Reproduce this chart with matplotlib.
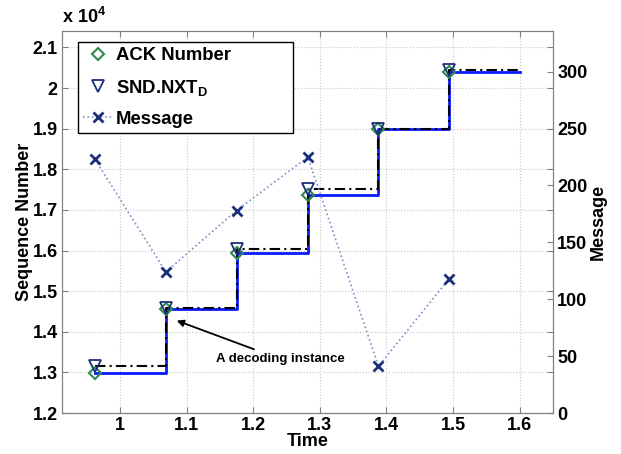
import numpy as np
import matplotlib
matplotlib.use('Agg')
import matplotlib.pyplot as plt
from matplotlib.ticker import FuncFormatter
from matplotlib.lines import Line2D

plt.rcParams['font.family'] = ['Liberation Sans', 'DejaVu Sans']
plt.rcParams['font.weight'] = 'bold'
plt.rcParams['mathtext.fontset'] = 'custom'
plt.rcParams['mathtext.rm'] = 'Liberation Sans:bold'
plt.rcParams['mathtext.bf'] = 'Liberation Sans:bold'

# --- data ---
time = [0.9625, 1.069, 1.175, 1.282, 1.388, 1.494]
time_end = 1.6
ack_number = [12990, 14550, 15948, 17373, 18985, 20403]
snd_nxt = [13162, 14597, 16030, 17504, 18995, 20435]
message = [223, 124, 178, 225, 41, 118]

# step lines run to the end time
t_step = time + [time_end]
ack_step = ack_number + [ack_number[-1]]
snd_step = snd_nxt + [snd_nxt[-1]]

green = '#2e8b4f'
navy = '#1c2f7a'
fs = 13

fig = plt.figure(figsize=(6.21, 4.54), dpi=100)
ax = fig.add_axes([0.0998, 0.0903, 0.7907, 0.8414])
ax2 = ax.twinx()

ax.plot(t_step, ack_step, drawstyle='steps-post', color='#0a1aff', lw=2, zorder=3)
ax.plot(t_step, snd_step, drawstyle='steps-post', color='black', lw=1.5,
        linestyle=(0, (5, 2, 1, 2)), zorder=4)
ax.plot(time, ack_number, linestyle='none', marker='D', markersize=6,
        markerfacecolor='none', markeredgecolor=green, markeredgewidth=1.5, zorder=5)
ax.plot(time, snd_nxt, linestyle='none', marker='v', markersize=8.5,
        markerfacecolor='none', markeredgecolor=navy, markeredgewidth=1.3, zorder=5)

ax2.plot(time, message, linestyle=':', color='#7f8fc8', lw=1.2, marker='x',
         markersize=7.5, markeredgecolor=navy, markeredgewidth=2)

ax.set_xlim(0.913, 1.65)
ax.set_ylim(12000, 21406)
ax2.set_ylim(0, 335.8)

ax.set_xticks([1, 1.1, 1.2, 1.3, 1.4, 1.5, 1.6])
ax.set_yticks(np.arange(12000, 21001, 1000))
ax.xaxis.set_major_formatter(FuncFormatter(lambda v, p: f'{v:g}'))
ax.yaxis.set_major_formatter(FuncFormatter(lambda v, p: f'{v / 1e4:g}'))
ax2.set_yticks(np.arange(0, 301, 50))

ax.grid(True, linestyle=':', color='#c8c8c8', lw=0.8)
ax.set_axisbelow(True)

for a in (ax, ax2):
    a.tick_params(direction='in', labelsize=fs, length=4, color='#808080', pad=3)
    for s in a.spines.values():
        s.set_color('#808080')
ax.tick_params(top=True, right=True)

ax.set_xlabel('Time', fontsize=fs, fontweight='bold', labelpad=-1)
ax.set_ylabel('Sequence Number', fontsize=fs, fontweight='bold', labelpad=0)
ax2.set_ylabel('Message', fontsize=fs, fontweight='bold', labelpad=2)
ax.text(0.0, 1.01, r'x 10$^{4}$', transform=ax.transAxes, ha='left',
        va='bottom', fontsize=fs, fontweight='bold')

ax.annotate('A decoding instance', xy=(1.0852, 14275), xytext=(1.144, 13330),
            fontsize=9.5, fontweight='bold', ha='left', va='center',
            arrowprops=dict(arrowstyle='-|>', color='black', lw=1.3,
                            mutation_scale=10, shrinkA=2, shrinkB=0))

handles = [
    Line2D([], [], linestyle='none', marker='D', markersize=6,
           markerfacecolor='none', markeredgecolor=green, markeredgewidth=1.5),
    Line2D([], [], linestyle='none', marker='v', markersize=8.5,
           markerfacecolor='none', markeredgecolor=navy, markeredgewidth=1.3),
    Line2D([], [], linestyle=':', color='#7f8fc8', lw=1.2, marker='x',
           markersize=7.5, markeredgecolor=navy, markeredgewidth=2),
]
labels = ['ACK Number', r'SND.NXT$_{\mathbf{D}}$', 'Message']
leg = ax2.legend(handles, labels, loc='upper left',
                 bbox_to_anchor=(0.032, 0.732, 0.438, 0.24), mode='expand',
                 borderaxespad=0, fancybox=False, framealpha=1, edgecolor='black',
                 prop={'size': 13.3, 'weight': 'bold'}, handlelength=1.6,
                 handletextpad=0.15, labelspacing=0.72, borderpad=0.3)
leg.get_frame().set_linewidth(1.0)

plt.savefig('out.png', dpi=100)
